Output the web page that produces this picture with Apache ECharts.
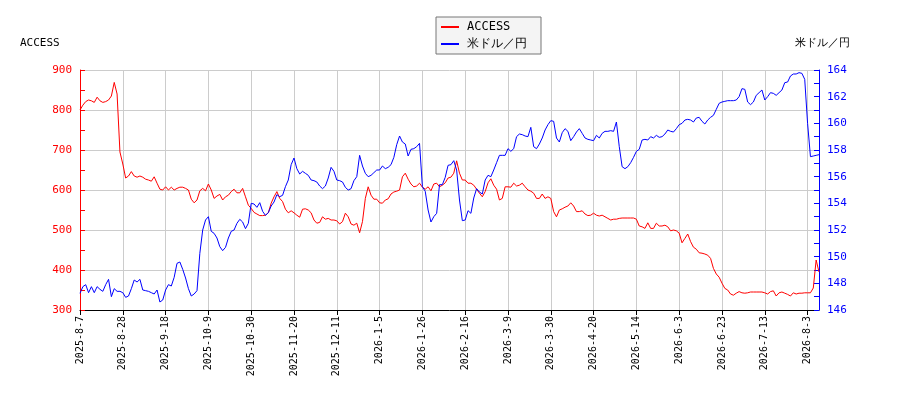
<html>
<head>
<meta charset="utf-8">
<script src="https://cdn.jsdelivr.net/npm/echarts@6/dist/echarts.min.js"></script>
<style>
  html, body { margin: 0; padding: 0; background: #fff; }
  #main { width: 900px; height: 400px; }
</style>
</head>
<body>
<div id="main"></div>
<script type="text/javascript">
// label dates shown under the x axis (one every 15 trading days)
var labelDates = ['2025-8-7', '2025-8-28', '2025-9-18', '2025-10-9', '2025-10-30', '2025-11-20',
    '2025-12-11', '2026-1-5', '2026-1-26', '2026-2-16', '2026-3-9', '2026-3-30', '2026-4-20',
    '2026-5-14', '2026-6-3', '2026-6-23', '2026-7-13', '2026-8-3'];
var tailDates = ['2026-8-4', '2026-8-5', '2026-8-6', '2026-8-7'];

var accessName = 'ACCESS';
var usdName = '米ドル／円';

var accessValues = [
    800, 812, 821, 825, 823, 819, 832, 823, 819, 821, 825, 835, 869, 840, 695, 665,
    630, 635, 646, 635, 632, 635, 632, 627, 625, 622, 633, 617, 602, 600, 608,
    600, 607, 600, 604, 607, 607, 604, 600, 577, 568, 575, 598, 604, 598, 615,
    600, 579, 585, 589, 575, 583, 587, 596, 602, 593, 593, 604, 583, 562, 554,
    544, 540, 536, 536, 537, 543, 567, 583, 596, 579, 571, 552, 543, 548, 543,
    537, 532, 552, 553, 550, 543, 525, 517, 519, 533, 527, 529, 525, 525, 523,
    515, 521, 542, 533, 515, 512, 517, 493, 521, 579, 608, 587, 577, 577, 568,
    567, 575, 578, 590, 595, 597, 600, 633, 642, 627, 615, 608, 610, 617, 607,
    602, 608, 598, 615, 617, 608, 612, 618, 630, 632, 642, 673, 642, 625, 625,
    617, 617, 612, 602, 592, 583, 596, 618, 628, 612, 602, 575, 579, 608, 608,
    607, 617, 610, 612, 617, 608, 600, 597, 592, 579, 579, 590, 579, 583, 579,
    546, 533, 550, 553, 557, 560, 568, 560, 546, 546, 548, 540, 536, 537, 542,
    537, 535, 537, 533, 529, 525, 527, 527, 529, 530, 530, 530, 530, 530, 527,
    510, 508, 504, 518, 504, 504, 517, 510, 510, 512, 508, 498, 500, 498, 492,
    468, 479, 490, 471, 457, 452, 443, 442, 440, 437, 429, 404, 390, 382, 367,
    354, 350, 340, 337, 342, 346, 343, 342, 343, 345, 345, 345, 345, 345, 343,
    340, 346, 348, 335, 343, 345, 342, 339, 335, 343, 340, 342, 342, 343, 343,
    343, 355, 425, 395
];

var usdValues = [
    147.25, 147.75, 147.9, 147.3, 147.75, 147.3, 147.75, 147.55, 147.4, 147.9, 148.3, 147.0, 147.6, 147.4, 147.4, 147.3,
    146.95, 147.05, 147.6, 148.25, 148.1, 148.3, 147.5, 147.45, 147.4, 147.3, 147.2, 147.5, 146.6, 146.75, 147.5,
    147.9, 147.8, 148.45, 149.5, 149.6, 149.05, 148.4, 147.6, 147.05, 147.2, 147.45, 150.25, 152.0, 152.75, 153.0,
    151.9, 151.75, 151.4, 150.75, 150.45, 150.7, 151.4, 151.9, 152.0, 152.5, 152.8, 152.6, 152.1, 152.5, 154.0,
    153.95, 153.7, 154.05, 153.4, 153.1, 153.3, 153.8, 154.1, 154.65, 154.5, 154.6, 155.25, 155.75, 156.9, 157.4,
    156.6, 156.2, 156.4, 156.25, 156.1, 155.75, 155.7, 155.6, 155.3, 155.1, 155.3, 155.9, 156.7, 156.4, 155.75,
    155.7, 155.6, 155.2, 155.0, 155.1, 155.7, 156.0, 157.6, 156.8, 156.25, 156.0, 156.1, 156.3, 156.5, 156.5,
    156.8, 156.6, 156.7, 156.9, 157.45, 158.4, 159.05, 158.6, 158.45, 157.55, 158.05, 158.1, 158.25, 158.5, 155.25,
    154.9, 153.5, 152.6, 153.0, 153.25, 155.4, 155.4, 155.95, 156.85, 156.9, 157.2, 156.5, 154.25, 152.7, 152.75,
    153.45, 153.25, 154.4, 155.1, 154.85, 154.7, 155.75, 156.1, 156.0, 156.5, 157.05, 157.6, 157.6, 157.6, 158.1,
    157.9, 158.1, 159.0, 159.2, 159.15, 159.05, 159.0, 159.7, 158.25, 158.1, 158.45, 158.9, 159.5, 159.9, 160.2,
    160.15, 158.9, 158.6, 159.3, 159.6, 159.4, 158.7, 159.0, 159.35, 159.6, 159.25, 158.9, 158.8, 158.75, 158.7,
    159.1, 158.9, 159.25, 159.4, 159.4, 159.45, 159.4, 160.1, 158.25, 156.75, 156.6, 156.75, 157.05, 157.45, 157.9,
    158.05, 158.75, 158.8, 158.75, 159.0, 158.9, 159.1, 158.95, 159.0, 159.2, 159.5, 159.4, 159.35, 159.6, 159.9,
    160.0, 160.25, 160.3, 160.25, 160.1, 160.4, 160.45, 160.15, 159.95, 160.25, 160.45, 160.6, 161.05, 161.5, 161.6,
    161.65, 161.7, 161.7, 161.7, 161.75, 162.0, 162.6, 162.55, 161.6, 161.4, 161.6, 162.1, 162.3, 162.5, 161.75,
    162.0, 162.3, 162.25, 162.1, 162.3, 162.5, 163.05, 163.1, 163.55, 163.7, 163.7, 163.8, 163.75, 163.3, 160.0,
    157.5, 157.55, 157.6, 157.65
];

// fill the trading days between label dates (15 steps per label)
function parseDate(s) {
    var p = s.split('-');
    return new Date(+p[0], +p[1] - 1, +p[2]);
}
function fmt(d) {
    return d.getFullYear() + '-' + (d.getMonth() + 1) + '-' + d.getDate();
}
var categories = [];
for (var k = 0; k < labelDates.length - 1; k++) {
    var a = parseDate(labelDates[k]), b = parseDate(labelDates[k + 1]);
    var week = [], sat = [];
    var d = new Date(a.getTime());
    d.setDate(d.getDate() + 1);
    while (d < b) {
        var wd = d.getDay();
        if (wd > 0 && wd < 6) week.push(new Date(d.getTime()));
        else if (wd == 6) sat.push(new Date(d.getTime()));
        d.setDate(d.getDate() + 1);
    }
    var days = week.concat(sat.slice(0, Math.max(0, 14 - week.length)));
    days.sort(function (x, y) { return x - y; });
    categories.push(labelDates[k]);
    days.slice(0, 14).forEach(function (x) { categories.push(fmt(x)); });
}
categories.push(labelDates[labelDates.length - 1]);
categories = categories.concat(tailDates);

var myChart = echarts.init(document.getElementById('main'));
var mono = 'DejaVu Sans Mono';

var option = {
    animation: false,
    backgroundColor: '#fff',
    textStyle: { fontFamily: mono },
    legend: {
        orient: 'vertical',
        left: 436,
        top: 17,
        padding: [4, 14, 4, 5],
        itemGap: 5,
        itemWidth: 18,
        itemHeight: 2,
        icon: 'rect',
        backgroundColor: '#f4f4f4',
        borderColor: '#777',
        borderWidth: 1,
        borderRadius: 0,
        textStyle: { fontFamily: mono, fontSize: 12, color: '#000', padding: [0, 0, 0, 3] },
        data: [accessName, usdName]
    },
    graphic: [
        { type: 'text', left: 20, top: 38, style: { text: 'ACCESS', font: '11px "DejaVu Sans Mono"', fill: '#000' } },
        { type: 'text', right: 50, top: 38, style: { text: '米ドル／円', font: '11px "DejaVu Sans Mono"', fill: '#000' } }
    ],
    grid: { left: 80, right: 81, top: 70, bottom: 90 },
    xAxis: {
        type: 'category',
        data: categories,
        boundaryGap: false,
        axisLine: { lineStyle: { color: '#000' } },
        axisTick: { interval: 14, length: 5, lineStyle: { color: '#000' } },
        axisLabel: { interval: 14, rotate: 90, fontSize: 10, color: '#000', fontFamily: mono, margin: 6 },
        splitLine: { show: true, interval: 14, lineStyle: { color: '#ccc' } }
    },
    yAxis: [{
        type: 'value',
        min: 300,
        max: 900,
        interval: 100,
        position: 'left',
        axisLine: { show: true, lineStyle: { color: '#f00' } },
        axisTick: { show: true, inside: true, length: 5, lineStyle: { color: '#f00' } },
        minorTick: { show: true, splitNumber: 2, length: 5, lineStyle: { color: '#f00' } },
        axisLabel: { color: '#f00', fontSize: 11, fontFamily: mono, margin: 8 },
        splitLine: { show: true, lineStyle: { color: '#ccc' } }
    }, {
        type: 'value',
        min: 146,
        max: 164,
        interval: 2,
        position: 'right',
        axisLine: { show: true, lineStyle: { color: '#00f' } },
        axisTick: { show: true, inside: true, length: 5, lineStyle: { color: '#00f' } },
        minorTick: { show: true, splitNumber: 2, length: 5, lineStyle: { color: '#00f' } },
        axisLabel: { color: '#00f', fontSize: 11, fontFamily: mono, margin: 8 },
        splitLine: { show: false }
    }],
    series: [{
        name: accessName,
        type: 'line',
        yAxisIndex: 0,
        data: accessValues,
        showSymbol: false,
        color: '#f00',
        lineStyle: { width: 1, color: '#f00' }
    }, {
        name: usdName,
        type: 'line',
        yAxisIndex: 1,
        data: usdValues,
        showSymbol: false,
        color: '#00f',
        lineStyle: { width: 1, color: '#00f' }
    }]
};
myChart.setOption(option);
</script>
</body>
</html>
